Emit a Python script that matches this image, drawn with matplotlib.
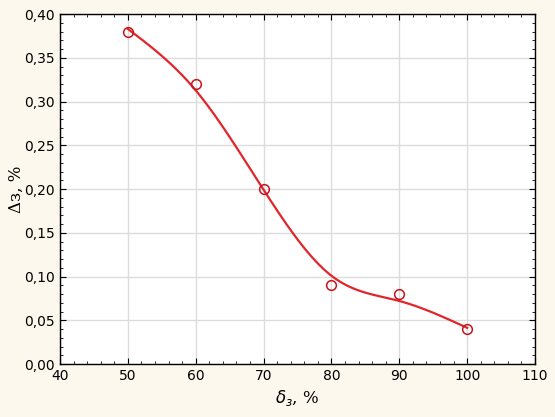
import numpy as np
import matplotlib.pyplot as plt
from matplotlib.ticker import MultipleLocator, AutoMinorLocator, FuncFormatter

# measured points
delta_pct = [50, 60, 70, 80, 90, 100]
error_pct = [0.38, 0.32, 0.20, 0.09, 0.08, 0.04]

# smoothing curve (Whittaker smoother with 2nd-difference penalty ~ cubic smoothing spline)
x = np.array(delta_pct, dtype=float)
y = np.array(error_pct, dtype=float)
grid = np.linspace(x.min(), x.max(), 201)
n = len(grid)
w = np.zeros(n)
yw = np.zeros(n)
for xi, yi in zip(x, y):
    k = np.argmin(np.abs(grid - xi))
    w[k] = 1.0
    yw[k] = yi
D = np.diff(np.eye(n), 2, axis=0)
lam = 3000
smooth = np.linalg.solve(np.diag(w) + lam * D.T @ D, w * yw)

bg = '#fdf8ee'
fig, ax = plt.subplots(figsize=(5.55, 4.17), dpi=100)
fig.patch.set_facecolor(bg)
fig.subplots_adjust(left=0.108, right=0.964, top=0.966, bottom=0.127)

ax.grid(True, color='#dcdcdc', lw=1.0)
ax.set_axisbelow(True)
ax.plot(grid, smooth, color='#e0262b', lw=1.6, zorder=3)
ax.plot(x, y, 'o', mfc='none', mec='#c8141e', ms=7, mew=1.1, zorder=4)

ax.set_xlim(40, 110)
ax.set_ylim(0, 0.40)
ax.xaxis.set_major_locator(MultipleLocator(10))
ax.yaxis.set_major_locator(MultipleLocator(0.05))
ax.xaxis.set_minor_locator(AutoMinorLocator(5))
ax.yaxis.set_minor_locator(AutoMinorLocator(5))
ax.yaxis.set_major_formatter(FuncFormatter(lambda v, p: f'{v:.2f}'.replace('.', ',')))
ax.tick_params(which='both', direction='in', top=True, right=True, labelsize=10)
ax.tick_params(which='major', length=4, width=0.8)
ax.tick_params(which='minor', length=2.5, width=0.6)
for s in ax.spines.values():
    s.set_linewidth(1.0)

ax.set_xlabel(r'$\delta_з$, %', fontsize=12, family='DejaVu Serif')
ax.set_ylabel('Δз, %', fontsize=12, family='DejaVu Serif', labelpad=0)

fig.savefig('out.png', dpi=100, facecolor=bg)
